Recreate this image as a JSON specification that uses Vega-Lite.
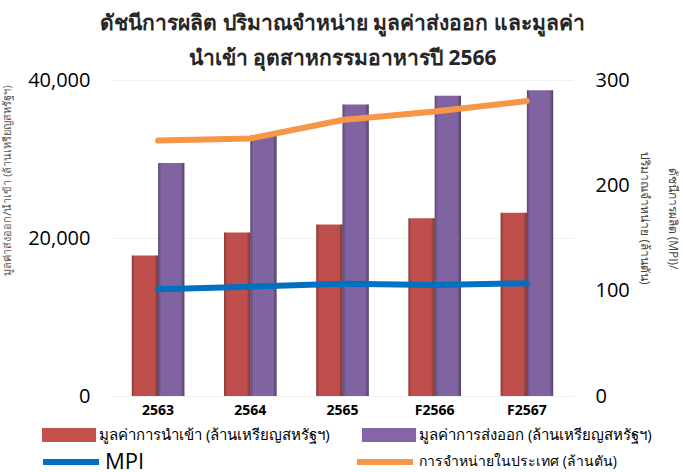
{
  "$schema": "https://vega.github.io/schema/vega-lite/v6.json",
  "width": 461,
  "height": 316,
  "autosize": {"type": "none"},
  "padding": {"left": 112, "top": 80, "right": 110, "bottom": 76},
  "background": "white",
  "title": {
    "text": ["ดัชนีการผลิต ปริมาณจำหน่าย มูลค่าส่งออก และมูลค่า", "นำเข้า อุตสาหกรรมอาหารปี 2566"],
    "fontSize": 21,
    "fontWeight": "bold",
    "color": "#262626",
    "lineHeight": 35,
    "offset": 1,
    "anchor": "middle"
  },
  "data": {
    "values": [
      {"ปี": "2563", "นำเข้า": 17800, "ส่งออก": 29500, "MPI": 101.3, "จำหน่าย": 242.5},
      {"ปี": "2564", "นำเข้า": 20700, "ส่งออก": 33000, "MPI": 103.8, "จำหน่าย": 244.5},
      {"ปี": "2565", "นำเข้า": 21700, "ส่งออก": 36900, "MPI": 106.5, "จำหน่าย": 262},
      {"ปี": "F2566", "นำเข้า": 22500, "ส่งออก": 38000, "MPI": 105.3, "จำหน่าย": 270},
      {"ปี": "F2567", "นำเข้า": 23200, "ส่งออก": 38700, "MPI": 107, "จำหน่าย": 280}
    ]
  },
  "encoding": {
    "x": {
      "field": "ปี",
      "type": "ordinal",
      "sort": null,
      "scale": {"type": "band", "paddingInner": 0.43, "paddingOuter": 0.215},
      "axis": {
        "title": null,
        "labelAngle": 0,
        "labelFontWeight": "bold",
        "labelFontSize": 14,
        "labelColor": "#000000",
        "labelPadding": 7,
        "ticks": false,
        "domain": false
      }
    }
  },
  "layer": [
    {
      "transform": [{"fold": ["นำเข้า", "ส่งออก"], "as": ["ประเภท", "มูลค่า"]}],
      "encoding": {
        "xOffset": {
          "field": "ประเภท",
          "type": "nominal",
          "scale": {"domain": ["นำเข้า", "ส่งออก"], "paddingInner": 0, "paddingOuter": 0}
        },
        "y": {
          "field": "มูลค่า",
          "type": "quantitative",
          "scale": {"domain": [0, 40000]},
          "axis": {
            "values": [0, 20000, 40000],
            "format": ",d",
            "labelFontSize": 20,
            "labelColor": "#000000",
            "labelPadding": 22,
            "ticks": false,
            "domain": false,
            "grid": true,
            "gridColor": "#f0f0f0",
            "title": "มูลค่าส่งออก/นำเข้า (ล้านเหรียญสหรัฐฯ)",
            "titleFontSize": 11,
            "titleFontWeight": "normal",
            "titleColor": "#595959",
            "titleX": -100,
            "titleY": 100
          }
        }
      },
      "layer": [
        {
          "mark": {"type": "bar"},
          "encoding": {
            "fill": {
              "field": "ประเภท",
              "type": "nominal",
              "scale": {"domain": ["นำเข้า", "ส่งออก"], "range": ["#C4514E", "#8466A6"]},
              "legend": {
                "orient": "none",
                "legendX": -70,
                "legendY": 328,
                "direction": "horizontal",
                "columns": 2,
                "columnPadding": 32,
                "title": null,
                "symbolType": "M-1,-0.26H1V0.26H-1Z",
                "symbolSize": 2916,
                "symbolStrokeWidth": 0,
                "labelOffset": 3,
                "labelFontSize": 15,
                "labelColor": "#000000",
                "labelLimit": 400,
                "labelExpr": "datum.value === 'นำเข้า' ? 'มูลค่าการนำเข้า (ล้านเหรียญสหรัฐฯ)' : 'มูลค่าการส่งออก (ล้านเหรียญสหรัฐฯ)'"
              }
            }
          }
        },
        {
          "mark": {
            "type": "bar",
            "fill": {
              "gradient": "linear",
              "x1": 0, "y1": 0, "x2": 1, "y2": 0,
              "stops": [
                {"offset": 0, "color": "rgba(0,0,0,0.30)"},
                {"offset": 0.12, "color": "rgba(0,0,0,0.03)"},
                {"offset": 0.86, "color": "rgba(0,0,0,0.03)"},
                {"offset": 1, "color": "rgba(0,0,0,0.38)"}
              ]
            }
          }
        }
      ]
    },
    {
      "transform": [{"fold": ["MPI", "จำหน่าย"], "as": ["ชุด", "ค่า"]}],
      "mark": {"type": "line", "strokeWidth": 6, "strokeCap": "round", "strokeJoin": "round"},
      "encoding": {
        "y": {
          "field": "ค่า",
          "type": "quantitative",
          "scale": {"domain": [0, 300]},
          "axis": {
            "orient": "right",
            "values": [0, 100, 200, 300],
            "labelFontSize": 20,
            "labelColor": "#000000",
            "labelPadding": 22,
            "ticks": false,
            "domain": false,
            "grid": false,
            "title": ["ดัชนีการผลิต (MPI)/", "ปริมาณจำหน่าย (ล้านตัน)"],
            "titleAngle": 90,
            "titleFontSize": 12,
            "titleFontWeight": "normal",
            "titleColor": "#404040",
            "titleLineHeight": 28,
            "titleX": 92,
            "titleY": 138
          }
        },
        "stroke": {
          "field": "ชุด",
          "type": "nominal",
          "scale": {"domain": ["MPI", "จำหน่าย"], "range": ["#0070C0", "#F79646"]},
          "legend": {
            "orient": "none",
            "legendX": -72,
            "legendY": 351,
            "direction": "horizontal",
            "columns": 2,
            "columnPadding": 200,
            "title": null,
            "symbolType": "stroke",
            "symbolSize": 3136,
            "symbolStrokeWidth": 6,
            "labelOffset": 3,
            "labelFontSize": 14,
            "labelColor": "#000000",
            "labelLimit": 400,
            "labelExpr": "datum.value === 'MPI' ? 'MPI' : 'การจำหน่ายในประเทศ  (ล้านตัน)'",
            "encode": {
              "labels": {
                "update": {"fontSize": {"signal": "datum.value === 'MPI' ? 22 : 14"}}
              }
            }
          }
        }
      }
    }
  ],
  "resolve": {"scale": {"y": "independent"}},
  "config": {
    "view": {"stroke": null},
    "font": "Open Sans",
    "axis": {"labelFont": "Open Sans", "titleFont": "Open Sans"},
    "legend": {"labelFont": "Open Sans"}
  }
}
